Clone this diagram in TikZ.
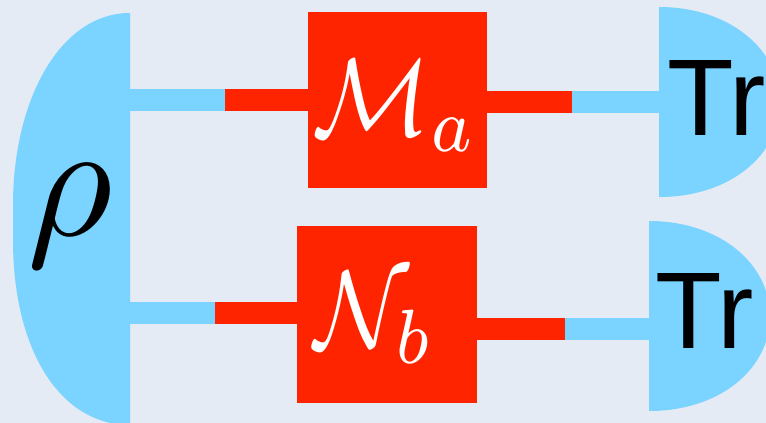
\documentclass[tikz,border=0pt]{standalone}
\usepackage{fontspec}
\newfontfamily\trfont{Liberation Sans}
\definecolor{bg}{RGB}{229,235,244}
\definecolor{qblue}{RGB}{122,212,255}
\definecolor{qred}{RGB}{255,36,0}
\tikzset{
  bluewire/.style={draw=qblue, line width=22pt},
  redwire/.style={draw=qred, line width=22pt},
  chanbox/.style={fill=qred, draw=none, inner sep=0pt, minimum width=179pt, minimum height=176pt},
  blob/.style={fill=qblue, draw=none},
  mathlbl/.style={inner sep=0pt, anchor=base west, xscale=9.8, yscale=11, text=white},
  trlbl/.style={inner sep=0pt, anchor=base west, font=\trfont\fontsize{109}{109}\selectfont, text=black}
}
\begin{document}
\begin{tikzpicture}[x=1pt,y=-1pt]
\useasboundingbox (0,0) rectangle (766,423);
\fill[bg] (0,0) rectangle (766,423);
% coordinates for wires
\coordinate (rhoA) at (130,100);
\coordinate (jA1) at (225,100);
\coordinate (jA2) at (572,101.5);
\coordinate (trAin) at (659,101.5);
\coordinate (rhoB) at (130,312.5);
\coordinate (jB1) at (215,312.5);
\coordinate (jB2) at (565,328.5);
\coordinate (trBin) at (649,328.5);
% boxes
\node[chanbox] (Ma) at (397.5,100) {};
\node[chanbox, minimum width=180pt, minimum height=177pt] (Nb) at (387,314.5) {};
% wires
\draw[bluewire] (rhoA) -- (jA1);
\draw[redwire] (jA1) -- (Ma.west);
\draw[redwire] (Ma.east |- jA2) -- (jA2);
\draw[bluewire] (jA2) -- (trAin);
\draw[bluewire] (rhoB) -- (jB1);
\draw[redwire] (jB1) -- (Nb.west |- jB1);
\draw[redwire] (Nb.east |- jB2) -- (jB2);
\draw[bluewire] (jB2) -- (trBin);
% redraw boxes on top
\fill[qred] (Ma.south west) rectangle (Ma.north east);
\fill[qred] (Nb.south west) rectangle (Nb.north east);
% shapes
\begin{scope}
\clip (0,0) rectangle (766,423);
\fill[blob] (130,13) .. controls (60,13) and (13,100) .. (13,205) -- (13,240)
  .. controls (13,350) and (60,425) .. (130,425) -- cycle;
\fill[blob] (659,7) .. controls (730,7) and (780,50) .. (780,102)
  .. controls (780,155) and (730,197) .. (659,197) -- cycle;
\fill[blob] (649,221) .. controls (720,221) and (770,264) .. (770,316)
  .. controls (770,369) and (720,411) .. (649,411) -- cycle;
\end{scope}
% labels
\node[inner sep=0pt, scale=16.5] (rho) at (70,216) {$\rho$};
\node[mathlbl] (MaL) at (311,135) {$\mathcal{M}_a$};
\node[mathlbl] (NbL) at (313,347) {$\mathcal{N}_b$};
\node[trlbl] (TrA) at (667,135) {Tr};
\node[trlbl] (TrB) at (655,348) {Tr};
\end{tikzpicture}
\end{document}
